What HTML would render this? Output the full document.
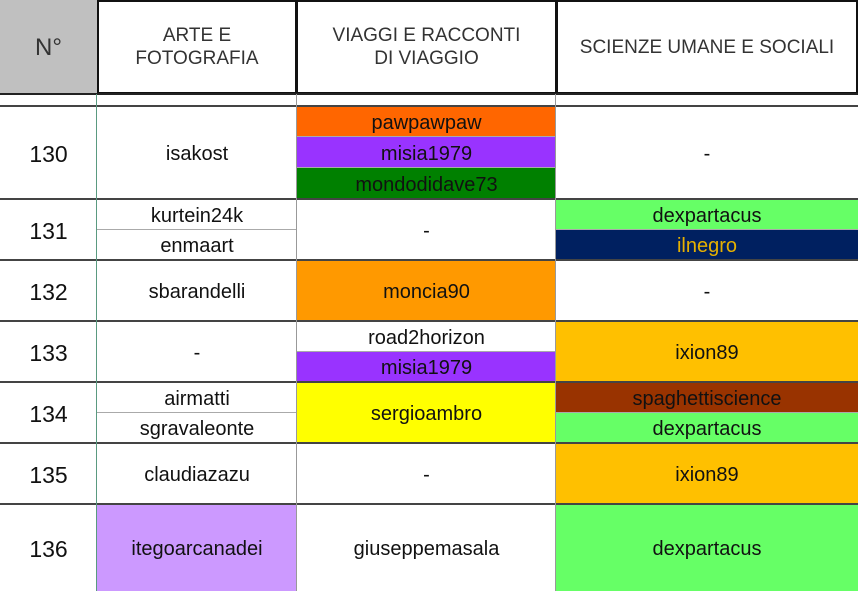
<!DOCTYPE html>
<html><head><meta charset="utf-8"><style>
body{margin:0;width:858px;height:591px;overflow:hidden;background:#fff;font-family:"Liberation Sans",sans-serif;position:relative}
.c{position:absolute;display:flex;align-items:center;justify-content:center;text-align:center;font-size:20px;color:#111;box-sizing:border-box;padding-top:3px}
.h{font-size:19px;color:#333;line-height:23px;padding-top:0}
.l{position:absolute;background:#444}
.t{position:absolute;background:#aaa}
</style></head><body>
<!-- header -->
<div class="c h" style="left:0;top:0;width:97px;height:94px;background:#c0c0c0;font-size:24px;color:#333">N°</div>
<div class="c h" style="left:97px;top:0;width:200px;height:94px;border:2px solid #111">ARTE E<br>FOTOGRAFIA</div>
<div class="c h" style="left:296px;top:0;width:261px;height:94px;border:2px solid #111">VIAGGI E RACCONTI<br>DI VIAGGIO</div>
<div class="c h" style="left:556px;top:0;width:302px;height:94px;border:2px solid #111">SCIENZE UMANE E SOCIALI</div>

<!-- numbers -->
<div class="c" style="left:0;top:106px;width:97px;height:93px;font-size:23px">130</div>
<div class="c" style="left:0;top:199px;width:97px;height:61px;font-size:23px">131</div>
<div class="c" style="left:0;top:260px;width:97px;height:61px;font-size:23px">132</div>
<div class="c" style="left:0;top:321px;width:97px;height:61px;font-size:23px">133</div>
<div class="c" style="left:0;top:382px;width:97px;height:61px;font-size:23px">134</div>
<div class="c" style="left:0;top:443px;width:97px;height:61px;font-size:23px">135</div>
<div class="c" style="left:0;top:504px;width:97px;height:87px;font-size:23px">136</div>

<!-- arte -->
<div class="c" style="left:97px;top:106px;width:200px;height:93px">isakost</div>
<div class="c" style="left:97px;top:199px;width:200px;height:31px">kurtein24k</div>
<div class="c" style="left:97px;top:230px;width:200px;height:30px">enmaart</div>
<div class="c" style="left:97px;top:260px;width:200px;height:61px">sbarandelli</div>
<div class="c" style="left:97px;top:321px;width:200px;height:61px">-</div>
<div class="c" style="left:97px;top:382px;width:200px;height:31px">airmatti</div>
<div class="c" style="left:97px;top:413px;width:200px;height:30px">sgravaleonte</div>
<div class="c" style="left:97px;top:443px;width:200px;height:61px">claudiazazu</div>
<div class="c" style="left:97px;top:504px;width:200px;height:87px;background:#cc99ff">itegoarcanadei</div>

<!-- viaggi -->
<div class="c" style="left:297px;top:106px;width:259px;height:31px;background:#ff6600">pawpawpaw</div>
<div class="c" style="left:297px;top:137px;width:259px;height:31px;background:#9933ff">misia1979</div>
<div class="c" style="left:297px;top:168px;width:259px;height:31px;background:#008000">mondodidave73</div>
<div class="c" style="left:297px;top:199px;width:259px;height:61px">-</div>
<div class="c" style="left:297px;top:260px;width:259px;height:61px;background:#ff9900">moncia90</div>
<div class="c" style="left:297px;top:321px;width:259px;height:31px">road2horizon</div>
<div class="c" style="left:297px;top:352px;width:259px;height:30px;background:#9933ff">misia1979</div>
<div class="c" style="left:297px;top:382px;width:259px;height:61px;background:#ffff00">sergioambro</div>
<div class="c" style="left:297px;top:443px;width:259px;height:61px">-</div>
<div class="c" style="left:297px;top:504px;width:259px;height:87px">giuseppemasala</div>

<!-- scienze -->
<div class="c" style="left:556px;top:106px;width:302px;height:93px">-</div>
<div class="c" style="left:556px;top:199px;width:302px;height:31px;background:#66ff66">dexpartacus</div>
<div class="c" style="left:556px;top:230px;width:302px;height:30px;background:#002060;color:#e6b000">ilnegro</div>
<div class="c" style="left:556px;top:260px;width:302px;height:61px">-</div>
<div class="c" style="left:556px;top:321px;width:302px;height:61px;background:#ffc000">ixion89</div>
<div class="c" style="left:556px;top:382px;width:302px;height:31px;background:#993300">spaghettiscience</div>
<div class="c" style="left:556px;top:413px;width:302px;height:30px;background:#66ff66">dexpartacus</div>
<div class="c" style="left:556px;top:443px;width:302px;height:61px;background:#ffc000">ixion89</div>
<div class="c" style="left:556px;top:504px;width:302px;height:87px;background:#66ff66">dexpartacus</div>

<!-- thin inner lines -->
<div class="t" style="left:97px;top:229px;width:200px;height:1px"></div>
<div class="t" style="left:97px;top:412px;width:200px;height:1px"></div>
<div class="t" style="left:297px;top:136px;width:259px;height:1px"></div>
<div class="t" style="left:297px;top:167px;width:259px;height:1px"></div>
<div class="t" style="left:297px;top:351px;width:259px;height:1px"></div>
<div class="t" style="left:556px;top:229px;width:302px;height:1px"></div>
<div class="t" style="left:556px;top:412px;width:302px;height:1px"></div>

<!-- row borders -->
<div class="l" style="left:0;top:93px;width:858px;height:2px;background:#222"></div>
<div class="l" style="left:0;top:105px;width:858px;height:2px"></div>
<div class="l" style="left:0;top:198px;width:858px;height:2px"></div>
<div class="l" style="left:0;top:259px;width:858px;height:2px"></div>
<div class="l" style="left:0;top:320px;width:858px;height:2px"></div>
<div class="l" style="left:0;top:381px;width:858px;height:2px"></div>
<div class="l" style="left:0;top:442px;width:858px;height:2px"></div>
<div class="l" style="left:0;top:503px;width:858px;height:2px"></div>

<!-- vertical lines -->
<div class="t" style="left:96px;top:94px;width:1px;height:497px;background:#5a9a80"></div>
<div class="t" style="left:296px;top:94px;width:1px;height:497px;background:#999"></div>
<div class="t" style="left:555px;top:94px;width:1px;height:497px;background:#999"></div>
</body></html>
